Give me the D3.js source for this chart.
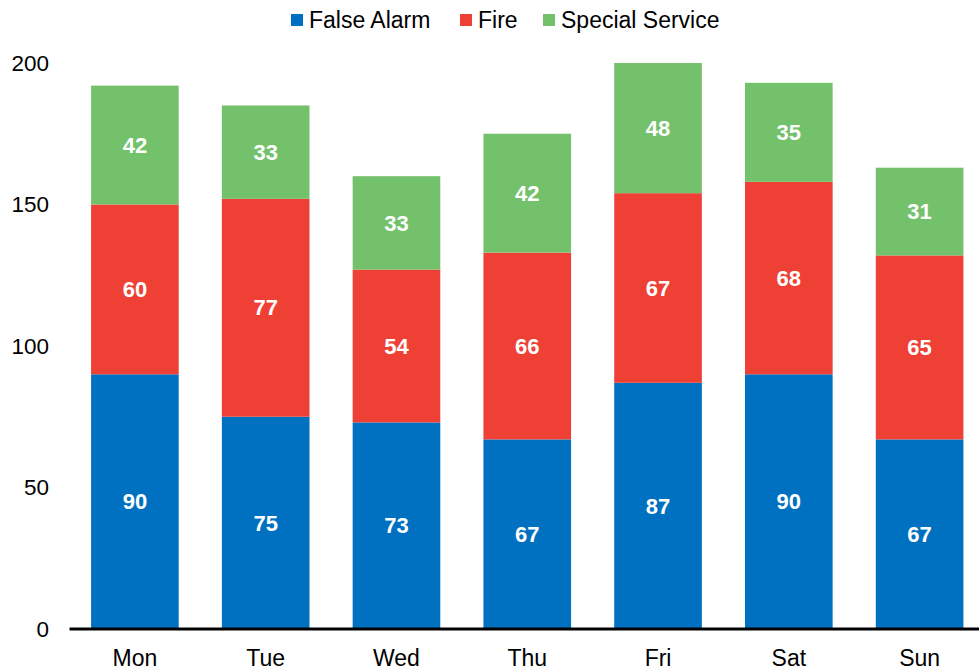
<!DOCTYPE html>
<html>
<head>
<meta charset="utf-8">
<script src="https://cdn.jsdelivr.net/npm/d3@7"></script>
<style>
  body { margin: 0; background: #fff; }
  text { font-family: "Liberation Sans", Arial, sans-serif; }
</style>
</head>
<body>
<div id="chart"></div>
<script>
// data
const days = ['Mon', 'Tue', 'Wed', 'Thu', 'Fri', 'Sat', 'Sun']
const seriesNames = ['False Alarm', 'Fire', 'Special Service']
const falseAlarm = [90, 75, 73, 67, 87, 90, 67]
const fire = [60, 77, 54, 66, 67, 68, 65]
const specialService = [42, 33, 33, 42, 48, 35, 31]
const yTicks = [0, 50, 100, 150, 200]
const colors = ['#0070c0', '#ee4035', '#74c16b']

const width = 979, height = 671

const svg = d3.select('#chart')
  .append('svg')
  .attr('width', width)
  .attr('height', height)

const rows = days.map((d, i) => ({
  day: d,
  'False Alarm': falseAlarm[i],
  'Fire': fire[i],
  'Special Service': specialService[i]
}))

const stack = d3.stack().keys(seriesNames)(rows)

const x = d3.scaleBand()
  .domain(days)
  .range([69.5, 985])
  .paddingInner(0.33)
  .paddingOuter(0.165)

// axis max is 200, taller bars get cut off there
const y = d3.scaleLinear()
  .domain([0, 200])
  .range([629, 63])
  .clamp(true)

// bars
const groups = svg.selectAll('g.series')
  .data(stack)
  .enter()
  .append('g')
  .attr('class', 'series')
  .attr('fill', (d, i) => colors[i])

groups.selectAll('rect')
  .data(d => d)
  .enter()
  .append('rect')
  .attr('x', d => x(d.data.day))
  .attr('y', d => y(d[1]))
  .attr('width', x.bandwidth())
  .attr('height', d => y(d[0]) - y(d[1]))

// value labels
groups.selectAll('text')
  .data(d => d)
  .enter()
  .append('text')
  .attr('x', d => x(d.data.day) + x.bandwidth() / 2)
  .attr('y', d => (y(d[0]) + y(d[1])) / 2)
  .attr('dy', '0.35em')
  .attr('text-anchor', 'middle')
  .attr('fill', '#fff')
  .attr('font-weight', 'bold')
  .attr('font-size', 22)
  .text(d => d[1] - d[0])

// y axis (labels only)
const yAxis = d3.axisLeft(y).tickValues(yTicks).tickSize(0).tickPadding(0)
svg.append('g')
  .attr('transform', 'translate(49,0)')
  .call(yAxis)
  .call(g => g.select('.domain').remove())
  .call(g => g.selectAll('text')
    .attr('font-size', 22.5)
    .attr('fill', '#000')
    .attr('font-family', '"Liberation Sans", Arial, sans-serif'))

// x axis
const xAxis = d3.axisBottom(x).tickSize(0).tickPadding(21)
svg.append('g')
  .attr('transform', 'translate(0,629)')
  .call(xAxis)
  .call(g => g.select('.domain').remove())
  .call(g => g.selectAll('text')
    .attr('font-size', 23)
    .attr('fill', '#000')
    .attr('font-family', '"Liberation Sans", Arial, sans-serif'))

svg.append('line')
  .attr('x1', 69.5)
  .attr('x2', width)
  .attr('y1', y(0))
  .attr('y2', y(0))
  .attr('stroke', '#000')
  .attr('stroke-width', 3)

// legend
const legendX = [291, 460, 543]
const legend = svg.selectAll('g.legend')
  .data(seriesNames)
  .enter()
  .append('g')
  .attr('class', 'legend')
  .attr('transform', (d, i) => `translate(${legendX[i]},14)`)

legend.append('rect')
  .attr('width', 12)
  .attr('height', 12)
  .attr('fill', (d, i) => colors[i])

legend.append('text')
  .attr('x', 18)
  .attr('y', 14)
  .attr('font-size', 23)
  .attr('fill', '#000')
  .text(d => d)
</script>
</body>
</html>
